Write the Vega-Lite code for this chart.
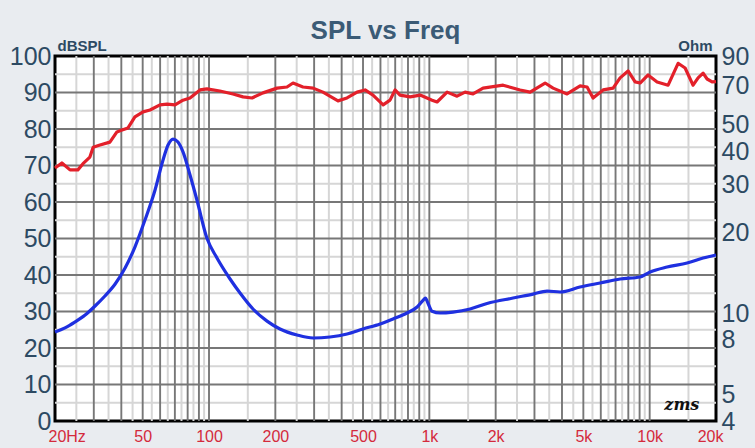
{
  "$schema": "https://vega.github.io/schema/vega-lite/v6.json",
  "autosize": "none",
  "width": 661,
  "height": 365,
  "padding": {"top": 56, "left": 55, "right": 39, "bottom": 27},
  "background": "#e9ecf0",
  "title": {"text": "SPL vs Freq", "anchor": "middle", "fontSize": 26, "fontWeight": "bold", "font": "Liberation Sans", "color": "#3b5b76", "offset": -6},
  "config": {
    "view": {"fill": "white", "stroke": "black", "strokeWidth": 3},
    "axis": {"labelFont": "Liberation Sans", "titleFont": "Liberation Sans"},
    "axisX": {"labelColor": "#d42a3c", "labelFontSize": 16, "labelPadding": 7, "labelFlush": true, "labelFlushOffset": 7, "ticks": false, "tickSize": 0, "domain": false, "grid": false}
  },
  "datasets": {
    "spl": [
      {"f":20,"db":69.3},{"f":21.5,"db":70.7},{"f":23.4,"db":68.8},{"f":25.4,"db":68.8},{"f":26.8,"db":70.5},{"f":28.8,"db":72.3},{"f":29.8,"db":75},{"f":32,"db":75.6},{"f":35.5,"db":76.4},{"f":38.2,"db":79.2},{"f":40.3,"db":79.7},{"f":42.9,"db":80.3},{"f":46.1,"db":83.3},{"f":50.2,"db":84.7},{"f":54,"db":85.2},{"f":59.9,"db":86.6},{"f":64.5,"db":86.8},{"f":70.1,"db":86.6},{"f":76.2,"db":87.9},{"f":82,"db":88.5},{"f":91,"db":90.7},{"f":97.9,"db":91},{"f":112,"db":90.4},{"f":128.5,"db":89.6},{"f":142.7,"db":88.8},{"f":156.8,"db":88.5},{"f":175.9,"db":89.9},{"f":203.6,"db":91.2},{"f":226,"db":91.5},{"f":240.6,"db":92.6},{"f":267,"db":91.5},{"f":297,"db":91.2},{"f":329,"db":90.1},{"f":385,"db":87.7},{"f":423,"db":88.5},{"f":470,"db":90.1},{"f":511,"db":90.7},{"f":555,"db":89.3},{"f":617,"db":86.6},{"f":663,"db":87.9},{"f":699,"db":90.7},{"f":736,"db":89.3},{"f":818,"db":88.8},{"f":908,"db":89.3},{"f":1029,"db":87.9},{"f":1084,"db":87.4},{"f":1204,"db":90.1},{"f":1336,"db":89},{"f":1453,"db":90.1},{"f":1579,"db":89.6},{"f":1753,"db":91.2},{"f":2162,"db":92},{"f":2582,"db":90.7},{"f":2866,"db":90.1},{"f":3352,"db":92.6},{"f":3644,"db":91.2},{"f":4218,"db":89.6},{"f":4832,"db":91.8},{"f":5200,"db":91.5},{"f":5536,"db":88.5},{"f":6146,"db":90.7},{"f":6824,"db":91.2},{"f":7340,"db":94},{"f":7980,"db":95.9},{"f":8588,"db":92.9},{"f":9048,"db":92.6},{"f":9838,"db":94.8},{"f":10806,"db":92.9},{"f":12126,"db":92},{"f":13460,"db":98},{"f":14482,"db":96.7},{"f":15742,"db":92},{"f":16588,"db":94},{"f":17478,"db":95.3},{"f":18226,"db":93.7},{"f":19202,"db":92.9},{"f":20000,"db":93}
    ],
    "imp": [
      {"f":20,"ohm":8.54},{"f":22.2,"ohm":8.85},{"f":24.6,"ohm":9.3},{"f":27.4,"ohm":9.88},{"f":30.4,"ohm":10.67},{"f":33.7,"ohm":11.62},{"f":37.5,"ohm":12.87},{"f":41.6,"ohm":14.75},{"f":46.1,"ohm":17.64},{"f":51.2,"ohm":22.2},{"f":56.9,"ohm":28.7},{"f":61.8,"ohm":37},{"f":65.2,"ohm":42.1},{"f":68.7,"ohm":44.3},{"f":72.3,"ohm":43.2},{"f":76.2,"ohm":39.7},{"f":82,"ohm":32.6},{"f":88.2,"ohm":26.3},{"f":97.9,"ohm":19},{"f":108.7,"ohm":16.06},{"f":124.6,"ohm":13.43},{"f":138.3,"ohm":11.92},{"f":158.4,"ohm":10.4},{"f":183.4,"ohm":9.38},{"f":210,"ohm":8.77},{"f":251,"ohm":8.33},{"f":297,"ohm":8.12},{"f":354,"ohm":8.19},{"f":423,"ohm":8.4},{"f":500,"ohm":8.77},{"f":598,"ohm":9.15},{"f":684,"ohm":9.55},{"f":792,"ohm":10.05},{"f":880,"ohm":10.58},{"f":936,"ohm":11.2},{"f":960,"ohm":11.42},{"f":985,"ohm":10.94},{"f":1029,"ohm":10.2},{"f":1119,"ohm":10.05},{"f":1282,"ohm":10.13},{"f":1531,"ohm":10.4},{"f":1828,"ohm":10.9},{"f":2400,"ohm":11.42},{"f":2956,"ohm":11.81},{"f":3424,"ohm":12.12},{"f":3921,"ohm":12.02},{"f":4832,"ohm":12.54},{"f":5957,"ohm":12.98},{"f":7340,"ohm":13.43},{"f":9048,"ohm":13.66},{"f":10044,"ohm":14.26},{"f":11996,"ohm":14.88},{"f":14788,"ohm":15.39},{"f":17478,"ohm":16.06},{"f":20000,"ohm":16.48}
    ],
    "gxl": [
      {"f":25},{"f":35},{"f":45},{"f":55},{"f":65},{"f":75},{"f":85},{"f":95},
      {"f":150},{"f":250},{"f":350},{"f":450},{"f":550},{"f":650},{"f":750},{"f":850},{"f":950},
      {"f":1500},{"f":2500},{"f":3500},{"f":4500},{"f":5500},{"f":6500},{"f":7500},{"f":8500},{"f":9500},
      {"f":15000}
    ],
    "gxd": [
      {"f":30},{"f":40},{"f":50},{"f":60},{"f":70},{"f":80},{"f":90},{"f":100},
      {"f":200},{"f":300},{"f":400},{"f":500},{"f":600},{"f":700},{"f":800},{"f":900},{"f":1000},
      {"f":2000},{"f":3000},{"f":4000},{"f":5000},{"f":6000},{"f":7000},{"f":8000},{"f":9000},{"f":10000}
    ],
    "gyl": [
      {"db":5},{"db":15},{"db":25},{"db":35},{"db":45},{"db":55},{"db":65},{"db":75},{"db":85},{"db":95}
    ],
    "gyd": [
      {"db":10},{"db":20},{"db":30},{"db":40},{"db":50},{"db":60},{"db":70},{"db":80},{"db":90}
    ],
    "logo": [{"f": 14000, "db": 4.5, "label": "zms"}]
  },
  "layer": [
    {
      "data": {"name": "gxl"},
      "mark": {"type": "rule", "color": "#d6d6d6", "strokeWidth": 2},
      "encoding": {
        "x": {"field": "f", "type": "quantitative", "title": null, "scale": {"type": "log", "domain": [20, 20000], "nice": false},
          "axis": {"values": [20, 50, 100, 200, 500, 1000, 2000, 5000, 10000, 20000], "labelExpr": "datum.value == 20 ? '20Hz' : (datum.value >= 1000 ? (datum.value / 1000) + 'k' : datum.value)"}}
      }
    },
    {
      "data": {"name": "gyl"},
      "mark": {"type": "rule", "color": "#d6d6d6", "strokeWidth": 2},
      "encoding": {
        "y": {"field": "db", "type": "quantitative", "title": null, "scale": {"domain": [0, 100], "nice": false}, "axis": null}
      }
    },
    {
      "data": {"name": "gxd"},
      "mark": {"type": "rule", "color": "#777777", "strokeWidth": 1.9},
      "encoding": {
        "x": {"field": "f", "type": "quantitative", "title": null,
          "axis": {"values": [20, 50, 100, 200, 500, 1000, 2000, 5000, 10000, 20000], "labelExpr": "datum.value == 20 ? '20Hz' : (datum.value >= 1000 ? (datum.value / 1000) + 'k' : datum.value)"}}
      }
    },
    {
      "data": {"name": "gyd"},
      "mark": {"type": "rule", "color": "#777777", "strokeWidth": 1.9},
      "encoding": {
        "y": {"field": "db", "type": "quantitative", "title": null, "scale": {"domain": [0, 100], "nice": false}, "axis": null}
      }
    },
    {
      "data": {"name": "spl"},
      "mark": {"type": "line", "color": "#e3202a", "strokeWidth": 3.2, "strokeJoin": "round"},
      "encoding": {
        "x": {"field": "f", "type": "quantitative", "title": null,
          "axis": {"values": [20, 50, 100, 200, 500, 1000, 2000, 5000, 10000, 20000], "labelExpr": "datum.value == 20 ? '20Hz' : (datum.value >= 1000 ? (datum.value / 1000) + 'k' : datum.value)"}},
        "y": {
          "field": "db", "type": "quantitative",
          "scale": {"domain": [0, 100], "nice": false},
          "axis": {
            "values": [0, 10, 20, 30, 40, 50, 60, 70, 80, 90, 100],
            "title": "dBSPL", "titleAngle": 0, "titleAlign": "left", "titleBaseline": "bottom",
            "titleX": 2, "titleY": -3, "titleFontSize": 15, "titleFontWeight": "bold", "titleColor": "#2d4a63",
            "labelColor": "#2d4a63", "labelFontSize": 25, "labelPadding": 4,
            "ticks": false, "tickSize": 0, "domain": false, "grid": false
          }
        }
      }
    },
    {
      "data": {"name": "imp"},
      "mark": {"type": "line", "color": "#1f30e0", "strokeWidth": 3.2, "interpolate": "monotone"},
      "encoding": {
        "x": {"field": "f", "type": "quantitative", "title": null,
          "axis": {"values": [20, 50, 100, 200, 500, 1000, 2000, 5000, 10000, 20000], "labelExpr": "datum.value == 20 ? '20Hz' : (datum.value >= 1000 ? (datum.value / 1000) + 'k' : datum.value)"}},
        "y": {
          "field": "ohm", "type": "quantitative",
          "scale": {"type": "log", "domain": [4, 90], "nice": false},
          "axis": {
            "orient": "right",
            "values": [4, 5, 6, 8, 10, 20, 30, 40, 50, 60, 70, 90],
            "title": "Ohm", "titleAngle": 0, "titleAlign": "right", "titleBaseline": "bottom",
            "titleX": -4, "titleY": -3, "titleFontSize": 15, "titleFontWeight": "bold", "titleColor": "#2d4a63",
            "labelColor": "#2d4a63", "labelFontSize": 25, "labelPadding": 5,
            "ticks": false, "tickSize": 0, "domain": false, "grid": false
          }
        }
      }
    },
    {
      "data": {"name": "logo"},
      "mark": {"type": "text", "font": "DejaVu Serif", "fontStyle": "italic", "fontWeight": "bold", "fontSize": 16, "color": "#111111", "align": "center", "baseline": "middle"},
      "encoding": {
        "text": {"field": "label"},
        "x": {"field": "f", "type": "quantitative", "title": null,
          "axis": {"values": [20, 50, 100, 200, 500, 1000, 2000, 5000, 10000, 20000], "labelExpr": "datum.value == 20 ? '20Hz' : (datum.value >= 1000 ? (datum.value / 1000) + 'k' : datum.value)"}},
        "y": {"field": "db", "type": "quantitative", "scale": {"domain": [0, 100], "nice": false}, "axis": null}
      }
    }
  ],
  "resolve": {"scale": {"y": "independent"}, "axis": {"y": "independent"}}
}
